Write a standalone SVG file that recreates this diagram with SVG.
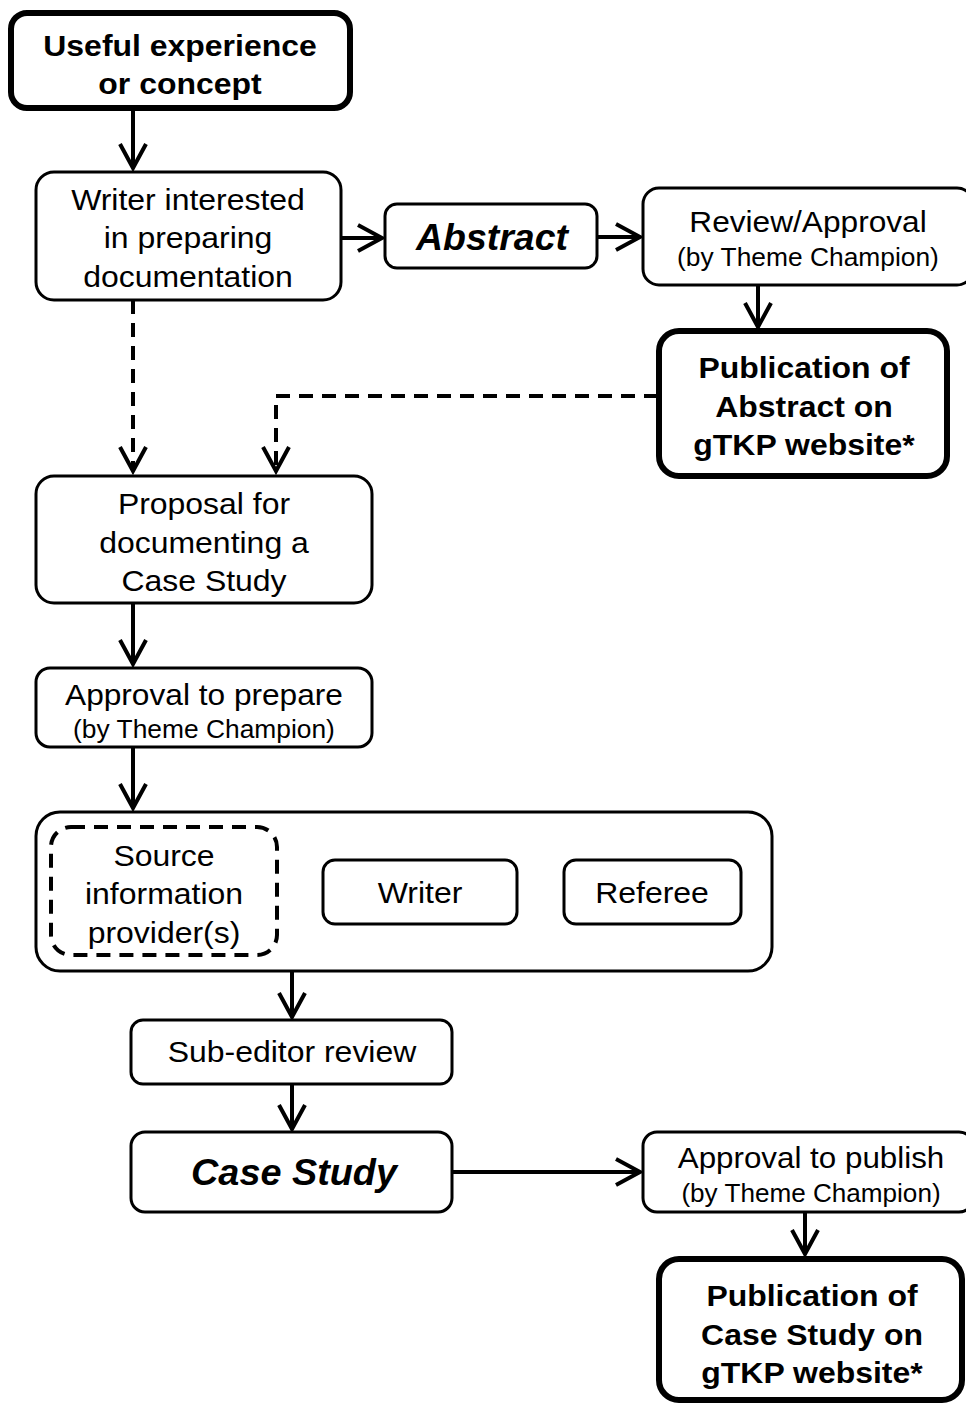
<svg xmlns="http://www.w3.org/2000/svg" width="966" height="1403" viewBox="0 0 966 1403">
<defs>
<style>
.box{fill:#fff;stroke:#000;stroke-width:3}
.thick{fill:#fff;stroke:#000;stroke-width:6}
.dbox{fill:none;stroke:#000;stroke-width:4;stroke-dasharray:14 9}
.t{font-family:"Liberation Sans",Arial,sans-serif;font-size:30px;fill:#000;text-anchor:middle}
.s{font-family:"Liberation Sans",Arial,sans-serif;font-size:25px;fill:#000;text-anchor:middle}
.b{font-family:"Liberation Sans",Arial,sans-serif;font-size:30px;font-weight:bold;fill:#000;text-anchor:middle}
.bi{font-family:"Liberation Sans",Arial,sans-serif;font-size:36px;font-weight:bold;font-style:italic;fill:#000;text-anchor:middle}
.c{fill:none;stroke:#000;stroke-width:4}
.d{fill:none;stroke:#000;stroke-width:4;stroke-dasharray:14 9}
</style>
<marker id="ah" markerUnits="userSpaceOnUse" markerWidth="40" markerHeight="40" viewBox="-30 -20 34 40" refX="0" refY="0" orient="auto">
<polyline points="-24,-13 0,0 -24,13" fill="none" stroke="#000" stroke-width="4"/>
</marker>
</defs>

<g id="connectors">
<line class="c" x1="133" y1="110" x2="133" y2="168" marker-end="url(#ah)"/>
<line class="c" x1="341" y1="238" x2="382" y2="238" marker-end="url(#ah)"/>
<line class="c" x1="597" y1="237" x2="640" y2="237" marker-end="url(#ah)"/>
<line class="c" x1="758" y1="285" x2="758" y2="327" marker-end="url(#ah)"/>
<line class="d" x1="133" y1="300" x2="133" y2="471" marker-end="url(#ah)"/>
<polyline class="d" points="658,396 276,396 276,471" marker-end="url(#ah)"/>
<line class="c" x1="133" y1="603" x2="133" y2="664" marker-end="url(#ah)"/>
<line class="c" x1="133" y1="747" x2="133" y2="808" marker-end="url(#ah)"/>
<line class="c" x1="292" y1="971" x2="292" y2="1017" marker-end="url(#ah)"/>
<line class="c" x1="292" y1="1084" x2="292" y2="1129" marker-end="url(#ah)"/>
<line class="c" x1="452" y1="1172" x2="640" y2="1172" marker-end="url(#ah)"/>
<line class="c" x1="805" y1="1212" x2="805" y2="1254" marker-end="url(#ah)"/>
</g>

<g id="useful">
<rect class="thick" x="11" y="13" width="339" height="95" rx="16"/>
<g transform="translate(180 0) scale(1.065 1)">
<text class="b" x="0" y="56">Useful experience</text>
<text class="b" x="0" y="94">or concept</text>
</g>
</g>

<g id="writer-interested">
<rect class="box" x="36" y="172" width="305" height="128" rx="18"/>
<g transform="translate(188 0) scale(1.065 1)">
<text class="t" x="0" y="210">Writer interested</text>
<text class="t" x="0" y="248">in preparing</text>
<text class="t" x="0" y="287">documentation</text>
</g>
</g>

<g id="abstract">
<rect class="box" x="385" y="204" width="212" height="64" rx="12"/>
<g transform="translate(492 0) scale(1.04 1)">
<text class="bi" x="0" y="250">Abstract</text>
</g>
</g>

<g id="review">
<rect class="box" x="643" y="188" width="330" height="97" rx="16"/>
<g transform="translate(808 0) scale(1.055 1)">
<text class="t" x="0" y="232">Review/Approval</text>
<text class="s" x="0" y="266">(by Theme Champion)</text>
</g>
</g>

<g id="pub-abstract">
<rect class="thick" x="659" y="331" width="288" height="145" rx="20"/>
<g transform="translate(804 0) scale(1.065 1)">
<text class="b" x="0" y="378">Publication of</text>
<text class="b" x="0" y="417">Abstract on</text>
<text class="b" x="0" y="455">gTKP website*</text>
</g>
</g>

<g id="proposal">
<rect class="box" x="36" y="476" width="336" height="127" rx="18"/>
<g transform="translate(204 0) scale(1.065 1)">
<text class="t" x="0" y="514">Proposal for</text>
<text class="t" x="0" y="553">documenting a</text>
<text class="t" x="0" y="591">Case Study</text>
</g>
</g>

<g id="approval-prepare">
<rect class="box" x="36" y="668" width="336" height="79" rx="14"/>
<g transform="translate(204 0) scale(1.055 1)">
<text class="t" x="0" y="705">Approval to prepare</text>
<text class="s" x="0" y="738">(by Theme Champion)</text>
</g>
</g>

<g id="team">
<rect class="box" x="36" y="812" width="736" height="159" rx="24"/>
</g>

<g id="source">
<rect class="dbox" x="51" y="827" width="226" height="128" rx="20"/>
<g transform="translate(164 0) scale(1.065 1)">
<text class="t" x="0" y="866">Source</text>
<text class="t" x="0" y="904">information</text>
<text class="t" x="0" y="943">provider(s)</text>
</g>
</g>

<g id="writer">
<rect class="box" x="323" y="860" width="194" height="64" rx="12"/>
<g transform="translate(420 0) scale(1.065 1)">
<text class="t" x="0" y="903">Writer</text>
</g>
</g>

<g id="referee">
<rect class="box" x="564" y="860" width="177" height="64" rx="12"/>
<g transform="translate(652 0) scale(1.065 1)">
<text class="t" x="0" y="903">Referee</text>
</g>
</g>

<g id="subeditor">
<rect class="box" x="131" y="1020" width="321" height="64" rx="12"/>
<g transform="translate(292 0) scale(1.065 1)">
<text class="t" x="0" y="1062">Sub-editor review</text>
</g>
</g>

<g id="casestudy">
<rect class="box" x="131" y="1132" width="321" height="80" rx="14"/>
<g transform="translate(294 0) scale(1.05 1)">
<text class="bi" x="0" y="1185">Case Study</text>
</g>
</g>

<g id="approval-publish">
<rect class="box" x="643" y="1132" width="330" height="80" rx="14"/>
<g transform="translate(811 0) scale(1.045 1)">
<text class="t" x="0" y="1168">Approval to publish</text>
<text class="s" x="0" y="1202">(by Theme Champion)</text>
</g>
</g>

<g id="pub-casestudy">
<rect class="thick" x="659" y="1259" width="303" height="141" rx="20"/>
<g transform="translate(812 0) scale(1.065 1)">
<text class="b" x="0" y="1306">Publication of</text>
<text class="b" x="0" y="1345">Case Study on</text>
<text class="b" x="0" y="1383">gTKP website*</text>
</g>
</g>
</svg>
